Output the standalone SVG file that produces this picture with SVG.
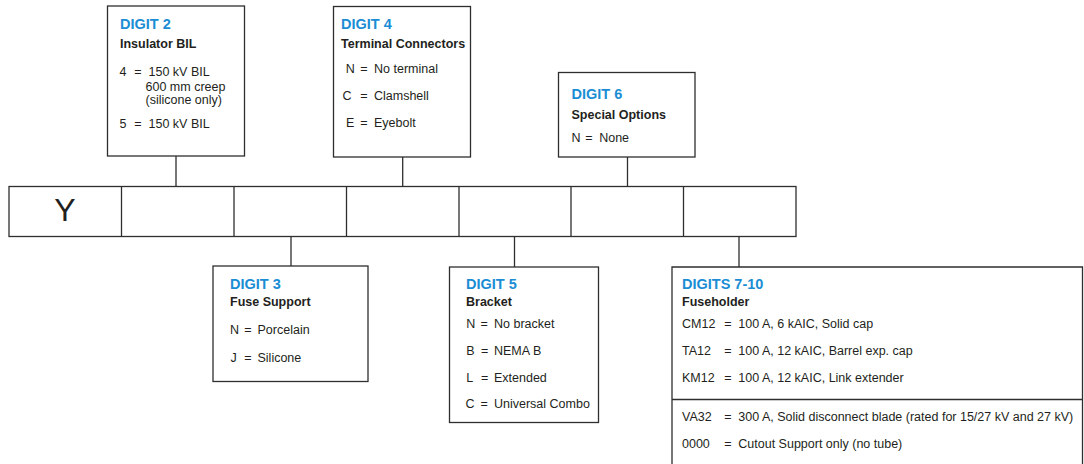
<svg xmlns="http://www.w3.org/2000/svg" width="1084" height="464" viewBox="0 0 1084 464">
<style>
.box{fill:#fff;stroke:#2e2e2e;stroke-width:1.3}
.ln{fill:none;stroke:#2e2e2e;stroke-width:1.3}
.t{font-family:"Liberation Sans",Arial,sans-serif;font-weight:bold;font-size:14.5px;fill:#1b8dd4}
.s{font-family:"Liberation Sans",Arial,sans-serif;font-weight:bold;font-size:12.5px;fill:#231f20}
.b{font-family:"Liberation Sans",Arial,sans-serif;font-size:12.5px;fill:#231f20}
.y{font-family:"Liberation Sans",Arial,sans-serif;font-size:32px;fill:#231f20}
</style>
<rect width="1084" height="464" fill="#fff"/>
<g id="connectors">
<line class="ln" x1="176" y1="156" x2="176" y2="186.5"/>
<line class="ln" x1="402.7" y1="157" x2="402.7" y2="186.5"/>
<line class="ln" x1="627.5" y1="157" x2="627.5" y2="186.5"/>
<line class="ln" x1="291" y1="236.5" x2="291" y2="266"/>
<line class="ln" x1="514.5" y1="236.5" x2="514.5" y2="267"/>
<line class="ln" x1="739" y1="236.5" x2="739" y2="267"/>
</g>
<g id="code-row">
<rect class="box" x="9" y="186.5" width="787" height="50" stroke-width="1.5"/>
<line class="ln" x1="121.5" y1="186.5" x2="121.5" y2="236.5" stroke-width="1.5"/>
<line class="ln" x1="234" y1="186.5" x2="234" y2="236.5" stroke-width="1.5"/>
<line class="ln" x1="346.5" y1="186.5" x2="346.5" y2="236.5" stroke-width="1.5"/>
<line class="ln" x1="459" y1="186.5" x2="459" y2="236.5" stroke-width="1.5"/>
<line class="ln" x1="571" y1="186.5" x2="571" y2="236.5" stroke-width="1.5"/>
<line class="ln" x1="683.5" y1="186.5" x2="683.5" y2="236.5" stroke-width="1.5"/>
<text class="y" x="65" y="221" text-anchor="middle">Y</text>
</g>
<g id="digit2">
<rect class="box" x="107.5" y="6" width="137" height="150"/>
<text class="t" x="120" y="29">DIGIT 2</text>
<text class="s" x="120" y="47.5">Insulator BIL</text>
<text class="b" y="75.5"><tspan x="119.5">4</tspan><tspan x="134.3">=</tspan><tspan x="148.5">150 kV BIL</tspan></text>
<text class="b" x="145.5" y="90.5">600 mm creep</text>
<text class="b" x="145.5" y="104">(silicone only)</text>
<text class="b" y="127.5"><tspan x="119.5">5</tspan><tspan x="134.3">=</tspan><tspan x="148.5">150 kV BIL</tspan></text>
</g>
<g id="digit4">
<rect class="box" x="333.5" y="6.5" width="137" height="150.5"/>
<text class="t" x="341" y="28.5">DIGIT 4</text>
<text class="s" x="341" y="47.5">Terminal Connectors</text>
<text class="b" y="72.5"><tspan x="345.8">N</tspan><tspan x="360.3">=</tspan><tspan x="374">No terminal</tspan></text>
<text class="b" y="100"><tspan x="342.4">C</tspan><tspan x="360.3">=</tspan><tspan x="374">Clamshell</tspan></text>
<text class="b" y="127"><tspan x="346">E</tspan><tspan x="360.3">=</tspan><tspan x="374">Eyebolt</tspan></text>
</g>
<g id="digit6">
<rect class="box" x="558.5" y="72.5" width="136.5" height="84.5"/>
<text class="t" x="571.5" y="99">DIGIT 6</text>
<text class="s" x="571.5" y="119">Special Options</text>
<text class="b" y="141.5"><tspan x="571.5">N</tspan><tspan x="585.3">=</tspan><tspan x="599.2">None</tspan></text>
</g>
<g id="digit3">
<rect class="box" x="213" y="266" width="155" height="115.5"/>
<text class="t" x="230" y="288.7">DIGIT 3</text>
<text class="s" x="230" y="306">Fuse Support</text>
<text class="b" y="334.3"><tspan x="229.9">N</tspan><tspan x="244.3">=</tspan><tspan x="257.5">Porcelain</tspan></text>
<text class="b" y="362.3"><tspan x="230.5">J</tspan><tspan x="244.3">=</tspan><tspan x="257.5">Silicone</tspan></text>
</g>
<g id="digit5">
<rect class="box" x="449.5" y="267" width="149" height="155.5"/>
<text class="t" x="466" y="289.3">DIGIT 5</text>
<text class="s" x="466" y="306">Bracket</text>
<text class="b" y="327.7"><tspan x="466.2">N</tspan><tspan x="480.4">=</tspan><tspan x="494">No bracket</tspan></text>
<text class="b" y="355"><tspan x="466.2">B</tspan><tspan x="481">=</tspan><tspan x="494">NEMA B</tspan></text>
<text class="b" y="381.7"><tspan x="466.2">L</tspan><tspan x="481">=</tspan><tspan x="494">Extended</tspan></text>
<text class="b" y="408.3"><tspan x="465.6">C</tspan><tspan x="480.4">=</tspan><tspan x="494">Universal Combo</tspan></text>
</g>
<g id="digits7-10">
<path class="box" d="M672,470 V267 H1082.5 V470"/>
<line class="ln" x1="672" y1="399.5" x2="1082.5" y2="399.5"/>
<text class="t" x="682" y="288.7">DIGITS 7-10</text>
<text class="s" x="682" y="306">Fuseholder</text>
<text class="b" y="327.7"><tspan x="682">CM12</tspan><tspan x="724.3">=</tspan><tspan x="738.3">100 A, 6 kAIC, Solid cap</tspan></text>
<text class="b" y="355"><tspan x="682">TA12</tspan><tspan x="724.3">=</tspan><tspan x="738.3">100 A, 12 kAIC, Barrel exp. cap</tspan></text>
<text class="b" y="382.3"><tspan x="682">KM12</tspan><tspan x="724.3">=</tspan><tspan x="738.3">100 A, 12 kAIC, Link extender</tspan></text>
<text class="b" y="421"><tspan x="682">VA32</tspan><tspan x="724.3">=</tspan><tspan x="738.3">300 A, Solid disconnect blade (rated for 15/27 kV and 27 kV)</tspan></text>
<text class="b" y="447.7"><tspan x="682">0000</tspan><tspan x="724.3">=</tspan><tspan x="738.3">Cutout Support only (no tube)</tspan></text>
</g>
</svg>
